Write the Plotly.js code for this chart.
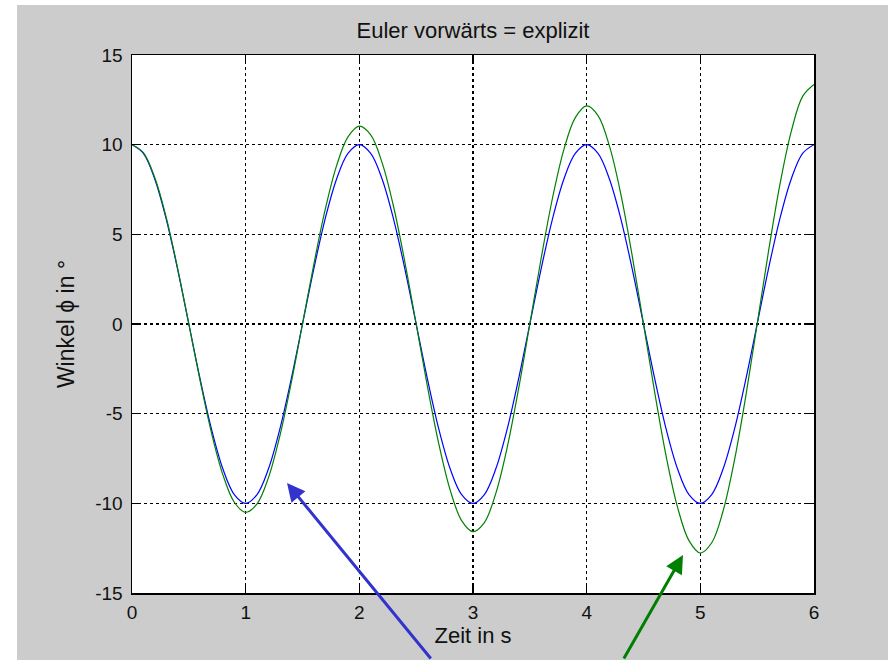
<!DOCTYPE html>
<html>
<head>
<meta charset="utf-8">
<script src="https://cdn.plot.ly/plotly-3.0.1.min.js"></script>
<style>html,body{margin:0;padding:0;background:#fff;}#chart{width:888px;height:660px;}</style>
</head>
<body>
<div id="chart"></div>
<script>
var zeit = [0,0.1,0.2,0.3,0.4,0.5,0.6,0.7,0.8,0.9,1.0,1.1,1.2,1.3,1.4,1.5,1.6,1.7,1.8,1.9,2.0,
  2.1,2.2,2.3,2.4,2.5,2.6,2.7,2.8,2.9,3.0,3.1,3.2,3.3,3.4,3.5,3.6,3.7,3.8,3.9,4.0,
  4.1,4.2,4.3,4.4,4.5,4.6,4.7,4.8,4.9,5.0,5.1,5.2,5.3,5.4,5.5,5.6,5.7,5.8,5.9,6.0];
var winkelExakt = [10,9.51,8.09,5.88,3.09,0,-3.09,-5.88,-8.09,-9.51,-10,-9.51,-8.09,-5.88,-3.09,0,3.09,5.88,8.09,9.51,10,
  9.51,8.09,5.88,3.09,0,-3.09,-5.88,-8.09,-9.51,-10,-9.51,-8.09,-5.88,-3.09,0,3.09,5.88,8.09,9.51,10,
  9.51,8.09,5.88,3.09,0,-3.09,-5.88,-8.09,-9.51,-10,-9.51,-8.09,-5.88,-3.09,0,3.09,5.88,8.09,9.51,10];
var winkelEuler = [10,9.56,8.17,5.97,3.15,0,-3.18,-6.09,-8.41,-9.94,-10.5,-10.03,-8.58,-6.26,-3.31,0,3.34,6.39,8.83,10.43,11.03,
  10.54,9.0,6.58,3.47,0,-3.51,-6.71,-9.28,-10.96,-11.58,-11.07,-9.46,-6.91,-3.65,0,3.68,7.04,9.74,11.51,12.16,
  11.62,9.93,7.26,3.83,0,-3.87,-7.4,-10.23,-12.08,-12.77,-12.2,-10.43,-7.61,-4.02,0,4.06,7.77,10.74,12.69,13.35];
var xTicks = [0,1,2,3,4,5,6];
var yTicks = [-15,-10,-5,0,5,10,15];

var font = 'Liberation Sans, Arial, Helvetica, sans-serif';
var textColor = '#111';
var traces = [
  {x: zeit, y: winkelExakt, mode: 'lines', line: {color: '#0000ff', width: 1.2, shape: 'spline'}, hoverinfo: 'skip'},
  {x: zeit, y: winkelEuler, mode: 'lines', line: {color: '#008000', width: 1.2, shape: 'spline'}, hoverinfo: 'skip'}
];
function px2x(p){ return (p-132)/682; }
function py2y(p){ return (593-p)/538; }
var axisCommon = {
  showline: true, linecolor: '#000', linewidth: 1.5, mirror: 'ticks',
  ticks: 'inside', ticklen: 7, tickcolor: '#000', tickwidth: 1.5,
  showgrid: true, gridcolor: '#000', gridwidth: 1.2, griddash: '3px,3px',
  zeroline: false, tickfont: {family: font, size: 19, color: textColor}
};
var layout = {
  width: 888, height: 660,
  margin: {l: 132, r: 74, t: 55, b: 67, pad: 0},
  paper_bgcolor: '#cccccc', plot_bgcolor: '#ffffff',
  showlegend: false,
  title: {text: 'Euler vorwärts = explizit', font: {family: font, size: 22, color: textColor}, x: 473/888, xref: 'container', xanchor: 'center', y: 1 - 30/660, yanchor: 'middle'},
  xaxis: Object.assign({}, axisCommon, {range: [0, 6], tickvals: xTicks, ticktext: xTicks.map(String), ticklabelstandoff: 2,
    title: {text: 'Zeit in s', font: {family: font, size: 22, color: textColor}, standoff: 2}}),
  yaxis: Object.assign({}, axisCommon, {range: [-15, 15], tickvals: yTicks, ticktext: yTicks.map(String), ticklabelstandoff: 4,
    title: {text: 'Winkel ϕ in °', font: {family: font, size: 23, color: textColor}, standoff: 14}}),
  shapes: [
    {type: 'rect', xref: 'paper', yref: 'paper', x0: px2x(-5), x1: px2x(17), y0: py2y(670), y1: py2y(-5), fillcolor: '#ffffff', line: {width: 0}, layer: 'above'},
    {type: 'rect', xref: 'paper', yref: 'paper', x0: px2x(-5), x1: px2x(900), y0: py2y(5), y1: py2y(-5), fillcolor: '#ffffff', line: {width: 0}, layer: 'above'}
  ],
  annotations: [
    {x: (287-132)/682*6, y: (324-483)/17.93, xref: 'x', yref: 'y', text: '', showarrow: true,
     arrowhead: 2, arrowsize: 1.2, arrowwidth: 3, arrowcolor: '#3232cc', ax: 145, ay: 202},
    {x: (683-132)/682*6, y: (324-555)/17.93, xref: 'x', yref: 'y', text: '', showarrow: true,
     arrowhead: 2, arrowsize: 1.2, arrowwidth: 3, arrowcolor: '#008000', ax: -60, ay: 133}
  ]
};
Plotly.newPlot('chart', traces, layout, {staticPlot: true, displayModeBar: false});
</script>
</body>
</html>
